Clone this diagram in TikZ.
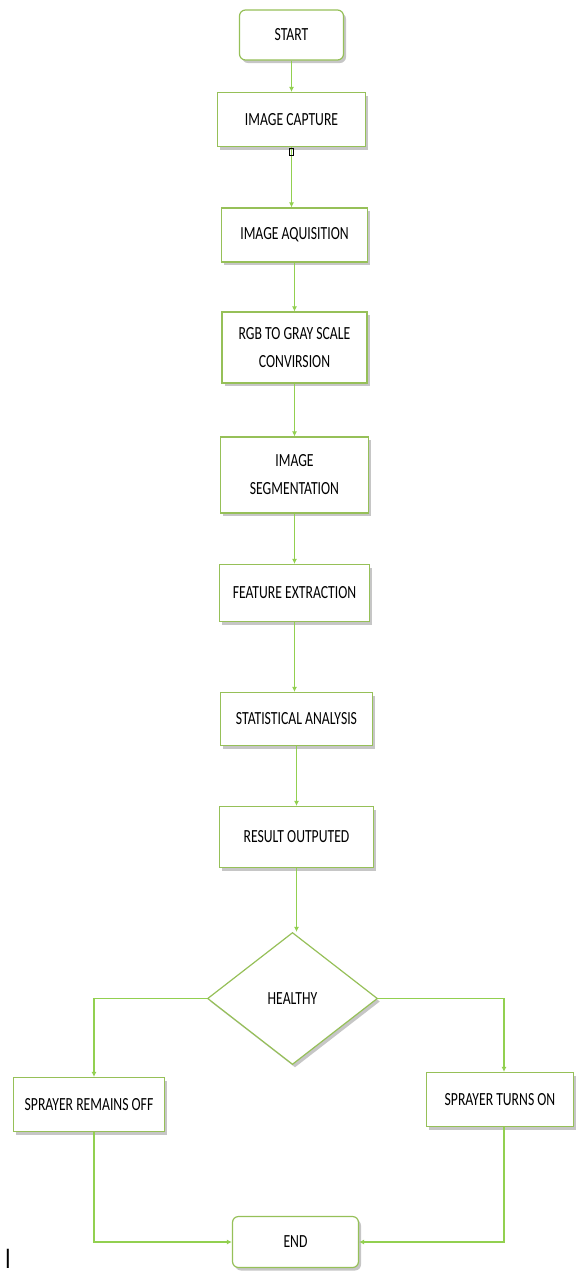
\documentclass[tikz,border=0pt]{standalone}
\usepackage{fontspec}
\setsansfont{Carlito}[FakeStretch=0.74]
\usetikzlibrary{arrows.meta,shapes.geometric,shadows}
\definecolor{boxgreen}{RGB}{150,192,88}
\definecolor{flowgreen}{RGB}{146,208,80}
\tikzset{%
  >={Latex[width=5pt,length=5pt]},
  base/.style = {rectangle, draw=boxgreen, line width=1.2pt, fill=white,
      drop shadow={shadow xshift=2.5pt, shadow yshift=-3pt, opacity=0.45},
      text centered, align=center,
      font=\sffamily\fontsize{18.5}{28}\selectfont},
  startstop/.style = {base, rounded corners=6pt,
      minimum width=104pt, minimum height=50pt},
  process/.style = {base, minimum width=148pt, minimum height=54pt},
  decision/.style = {base, diamond, inner sep=0pt,
      minimum width=170pt, minimum height=132pt},
  flow/.style = {->, draw=flowgreen, line width=1.2pt},
}
\begin{document}
\begin{tikzpicture}[x=1pt, y=1pt, node distance=118pt]
  \useasboundingbox (0,0) rectangle (576,-1275);
  % Specification of nodes (position, etc.)
  \node (start)       [startstop] at (291.5,-35)                 {START};
  \node (capture)     [process, below of=start, yshift=33.5pt]   {IMAGE CAPTURE};
  \node (aquisition)  [process, minimum width=146pt,
                       below of=capture, xshift=3pt, yshift=2.5pt] {IMAGE AQUISITION};
  \node (grayscale)   [process, minimum width=145pt, minimum height=71pt,
                       below of=aquisition, yshift=5.5pt]
                                               {RGB TO GRAY SCALE\\CONVIRSION};
  \node (segment)     [process, minimum height=76pt,
                       below of=grayscale, yshift=-9.5pt]  {IMAGE\\SEGMENTATION};
  \node (feature)     [process, minimum width=150pt, minimum height=57pt,
                       below of=segment]                   {FEATURE EXTRACTION};
  \node (statistics)  [process, minimum width=152pt, minimum height=53pt,
                       below of=feature, xshift=2pt, yshift=-8pt]
                                                       {STATISTICAL ANALYSIS};
  \node (result)      [process, minimum width=154pt, minimum height=61pt,
                       below of=statistics]                {RESULT OUTPUTED};
  \node (healthy)     [decision, below of=result, xshift=-4pt, yshift=-43.5pt]
                                                                  {HEALTHY};
  \node (sprayerOff)  [process, minimum width=151pt,
                       below of=healthy, xshift=-203.5pt, yshift=12pt]
                                                        {SPRAYER REMAINS OFF};
  \node (sprayerOn)   [process, minimum width=147pt,
                       below of=healthy, xshift=207.5pt, yshift=17pt]
                                                          {SPRAYER TURNS ON};
  \node (end)         [startstop, minimum width=126pt, minimum height=51pt,
                       below of=healthy, xshift=3pt, yshift=-125.5pt]   {END};
  % Specification of lines between nodes specified above
  \draw[flow]       (start) -- (capture);
  \draw[flow]     (capture) -- (capture.south |- aquisition.north);
  \draw[flow]  (aquisition) -- (grayscale);
  \draw[flow]   (grayscale) -- (segment);
  \draw[flow]     (segment) -- (feature);
  \draw[flow]     (feature) -- (feature.south |- statistics.north);
  \draw[flow]  (statistics) -- (statistics.south |- result.north);
  \draw[flow]      (result) -- (result.south |- healthy.north);
  \draw[flow] (healthy.west) -| ([xshift=5pt]sprayerOff.north);
  \draw[flow] (healthy.east) -| ([xshift=4pt]sprayerOn.north);
  \draw[flow] ([xshift=5pt]sprayerOff.south) |- (end.west);
  \draw[flow]  ([xshift=4pt]sprayerOn.south) |- (end.east);
  % stray marks of the original
  \node (captureGlyph) [draw=black, line width=0.8pt, inner sep=0pt,
                        minimum width=3.5pt, minimum height=7pt,
                        below of=capture, yshift=85.5pt] {};
  \node (cursorMark) [anchor=base west, inner sep=0pt,
                      font=\sffamily\fontsize{30}{30}\selectfont]
                     at (5,-1268) {I};
\end{tikzpicture}
\end{document}
